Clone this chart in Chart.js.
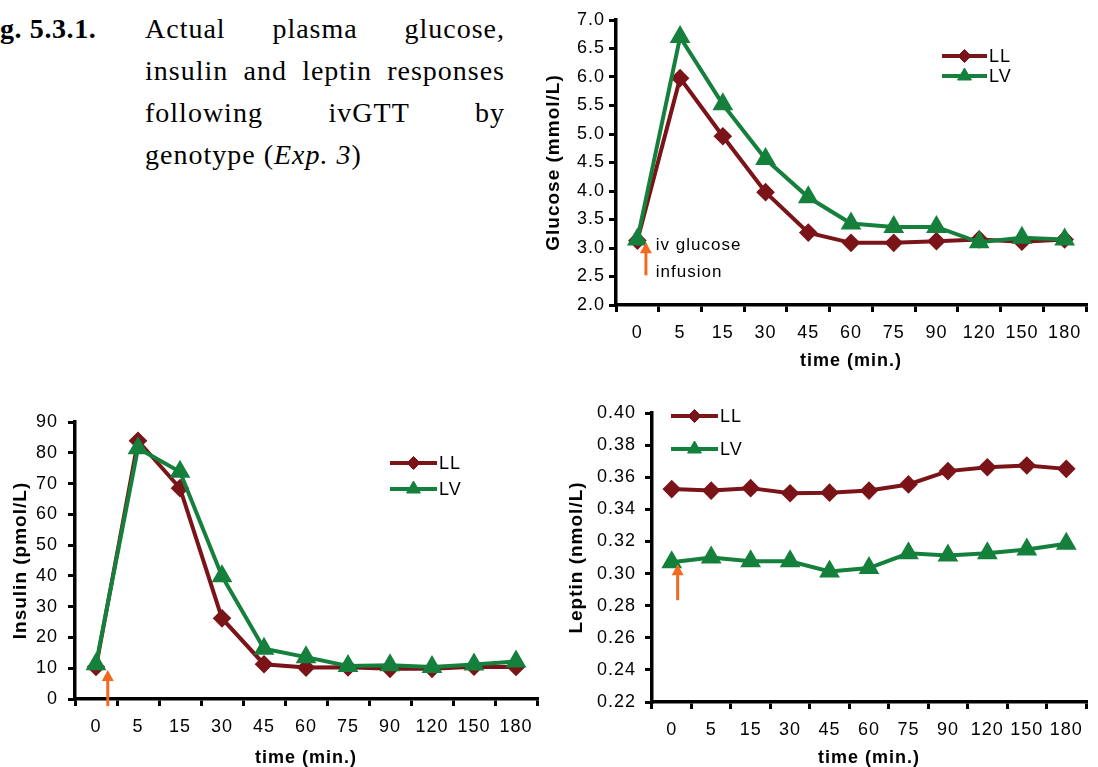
<!DOCTYPE html>
<html>
<head>
<meta charset="utf-8">
<script src="https://cdn.jsdelivr.net/npm/chart.js@4.4.1/dist/chart.umd.min.js"></script>
<style>
  body { margin: 0; background: #fff; width: 1098px; height: 767px; position: relative; overflow: hidden; }
  canvas { position: absolute; }
  .cap { position: absolute; font-family: "Liberation Serif", serif; font-size: 28px; line-height: 42px; color: #000;
         letter-spacing: 1px; white-space: nowrap; }
  .j { text-align: justify; text-align-last: justify; }
</style>
</head>
<body>

<div class="cap" style="left:0; top:8px; font-weight:bold; letter-spacing:0.6px;">g. 5.3.1.</div>
<div class="cap" style="left:145px; top:8px; width:360px;">
  <div class="j">Actual plasma glucose,</div>
  <div class="j">insulin and leptin responses</div>
  <div class="j">following ivGTT by</div>
  <div>genotype (<i>Exp. 3</i>)</div>
</div>

<canvas id="glucose" style="left:540px; top:0px;"></canvas>
<canvas id="insulin" style="left:0px; top:400px;"></canvas>
<canvas id="leptin" style="left:550px; top:390px;"></canvas>

<script>
// data
const timeLabels = ['0', '5', '15', '30', '45', '60', '75', '90', '120', '150', '180'];
const seriesNames = ['LL', 'LV'];

const glucoseLL = [3.13, 5.98, 4.96, 3.98, 3.27, 3.09, 3.09, 3.12, 3.15, 3.11, 3.15];
const glucoseLV = [3.15, 6.70, 5.52, 4.56, 3.89, 3.43, 3.37, 3.37, 3.10, 3.18, 3.15];
const insulinLL = [10.4, 83.9, 68.5, 26.2, 11.3, 10.2, 10.3, 9.8, 9.8, 10.5, 10.4];
const insulinLV = [11.3, 81.5, 73.8, 39.9, 16.3, 13.6, 10.7, 11.0, 10.4, 11.2, 12.2];
const leptinLL = [0.3526, 0.3517, 0.3532, 0.3500, 0.3504, 0.3517, 0.3555, 0.3638, 0.3662, 0.3673, 0.3652];
const leptinLV = [0.3070, 0.3100, 0.3076, 0.3076, 0.3013, 0.3034, 0.3126, 0.3112, 0.3126, 0.3150, 0.3186];

const colLL = '#7b1418';
const colLV = '#14803c';
const arrowCol = '#f26a21';
const sans = "'Liberation Sans', Arial, sans-serif";

// canvas text is a bit spaced out in the original
const spacing = {
  id: 'spacing',
  beforeLayout(c) { c.ctx.letterSpacing = '1px'; },
  beforeDraw(c) { c.ctx.letterSpacing = '1px'; }
};

// legend box placed freely inside the canvas
const freeLegend = {
  id: 'freeLegend',
  afterDraw(c, args, o) {
    const ctx = c.ctx;
    ctx.save();
    ctx.letterSpacing = '1px';
    c.data.datasets.forEach((ds, i) => {
      const y = o.y + i * o.gap;
      ctx.strokeStyle = ds.borderColor;
      ctx.lineWidth = 4;
      ctx.beginPath();
      ctx.moveTo(o.x, y);
      ctx.lineTo(o.x + o.len, y);
      ctx.stroke();
      ctx.fillStyle = ds.borderColor;
      ctx.lineWidth = 1;
      Chart.helpers.drawPoint(ctx, { pointStyle: ds.pointStyle, radius: ds.pointRadius, borderWidth: 1 }, o.x + o.len / 2, y);
      ctx.fillStyle = '#000';
      ctx.font = '18px ' + sans;
      ctx.textBaseline = 'middle';
      ctx.fillText(ds.label, o.x + o.len + 2, y + 1);
    });
    ctx.restore();
  }
};

// orange arrow marking the iv glucose infusion
const infusion = {
  id: 'infusion',
  afterDraw(c, args, o) {
    const ctx = c.ctx;
    const xs = c.scales.x, ys = c.scales.y;
    const x = xs.getPixelForValue(o.at);
    const y0 = ys.getPixelForValue(o.from);
    const y1 = ys.getPixelForValue(o.to);
    ctx.save();
    ctx.strokeStyle = arrowCol;
    ctx.fillStyle = arrowCol;
    ctx.lineWidth = 3;
    ctx.beginPath();
    ctx.moveTo(x, y0);
    ctx.lineTo(x, y1 + 9);
    ctx.stroke();
    ctx.beginPath();
    ctx.moveTo(x, y1);
    ctx.lineTo(x - 6, y1 + 11);
    ctx.lineTo(x + 6, y1 + 11);
    ctx.closePath();
    ctx.fill();
    if (o.text) {
      ctx.letterSpacing = '1px';
      ctx.fillStyle = '#000';
      ctx.font = '17px ' + sans;
      ctx.textBaseline = 'middle';
      o.text.forEach((t, i) => {
        ctx.fillText(t, xs.getPixelForValue(o.textAt), ys.getPixelForValue(o.textY[i]));
      });
    }
    ctx.restore();
  }
};

function makeChart(id, w, h, cfg) {
  const cv = document.getElementById(id);
  cv.width = w; cv.height = h;
  cv.style.width = w + 'px'; cv.style.height = h + 'px';
  return new Chart(cv.getContext('2d'), {
    type: 'line',
    data: {
      labels: timeLabels,
      datasets: [
        { label: seriesNames[0], data: cfg.ll, borderColor: colLL, backgroundColor: colLL,
          pointStyle: 'rectRot', pointRadius: 6.5, borderWidth: 4, order: 1 },
        { label: seriesNames[1], data: cfg.lv, borderColor: colLV, backgroundColor: colLV,
          pointStyle: 'triangle', pointRadius: 8, borderWidth: 4, order: 0 }
      ]
    },
    options: {
      responsive: false,
      animation: false,
      layout: { padding: { top: cfg.top, right: cfg.right, left: 0, bottom: 0 } },
      elements: { line: { tension: 0 }, point: { borderWidth: 1 } },
      plugins: {
        legend: { display: false },
        tooltip: { enabled: false },
        freeLegend: cfg.legend,
        infusion: cfg.arrow
      },
      scales: {
        x: {
          offset: true,
          grid: { offset: true, drawOnChartArea: false, tickLength: 7, color: '#000', lineWidth: 3 },
          border: { color: '#000', width: 3.5 },
          ticks: { color: '#000', font: { family: sans, size: 18 }, padding: 10, autoSkip: false, maxRotation: 0 },
          title: { display: true, text: 'time (min.)', color: '#000',
                   font: { family: sans, size: 18, weight: 'bold', lineHeight: 1 },
                   padding: { top: 0, bottom: cfg.xTitlePad } },
          afterFit: s => { s.height = cfg.xH; }
        },
        y: {
          min: cfg.min, max: cfg.max,
          grid: { drawOnChartArea: false, tickLength: 7, color: '#000', lineWidth: 3 },
          border: { color: '#000', width: 3.5 },
          ticks: { stepSize: cfg.step, color: '#000', font: { family: sans, size: 18 }, padding: cfg.yPad,
                   callback: v => v.toFixed(cfg.dec) },
          title: { display: true, text: cfg.yTitle, color: '#000',
                   font: { family: sans, size: 19, weight: 'bold', lineHeight: 1 },
                   padding: { top: cfg.yTitlePad, bottom: 0 } },
          afterFit: s => { s.width = cfg.yW; }
        }
      }
    },
    plugins: [spacing, freeLegend, infusion]
  });
}

makeChart('glucose', 558, 380, {
  ll: glucoseLL, lv: glucoseLV, min: 2, max: 7, step: 0.5, dec: 1,
  yTitle: 'Glucose (mmol/L)', top: 20, right: 2, xH: 75, yW: 76, yPad: 4,
  xTitlePad: 10, yTitlePad: 4,
  legend: { x: 402, y: 56, gap: 20, len: 45 },
  arrow: { at: 0.2, from: 2.52, to: 3.1, text: ['iv glucose', 'infusion'], textAt: 0.43, textY: [3.05, 2.58] }
});

makeChart('insulin', 550, 367, {
  ll: insulinLL, lv: insulinLV, min: 0, max: 90, step: 10, dec: 0,
  yTitle: 'Insulin (pmol/L)', top: 22, right: 13, xH: 68, yW: 75, yPad: 10,
  xTitlePad: 0, yTitlePad: 11,
  legend: { x: 390, y: 63, gap: 26, len: 47 },
  arrow: { at: 0.28, from: -2.3, to: 9.4 }
});

makeChart('leptin', 548, 377, {
  ll: leptinLL, lv: leptinLV, min: 0.22, max: 0.40, step: 0.02, dec: 2,
  yTitle: 'Leptin (nmol/L)', top: 23, right: 2, xH: 65, yW: 102, yPad: 9,
  xTitlePad: 0, yTitlePad: 17,
  legend: { x: 121, y: 26, gap: 33, len: 47 },
  arrow: { at: 0.15, from: 0.2834, to: 0.3058 }
});
</script>
</body>
</html>
